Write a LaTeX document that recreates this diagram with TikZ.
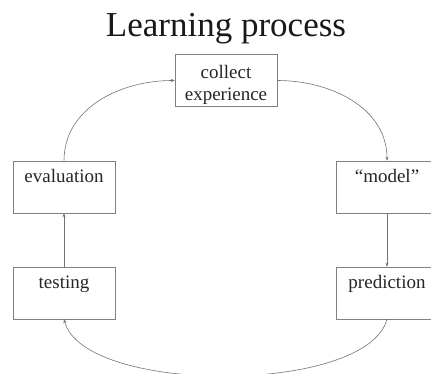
\documentclass[tikz,border=0pt]{standalone}
\usepackage{fontspec}
\setmainfont{Liberation Serif}
\usetikzlibrary{arrows.meta}
\begin{document}
\begin{tikzpicture}[x=1pt,y=1pt,
  stepbox/.style={draw=black!50, line width=0.6pt, minimum width=102pt, minimum height=52pt, inner sep=0pt},
  boxtext/.style={anchor=base, font=\fontsize{19}{22}\selectfont, text=black!85, inner sep=0pt},
  conn/.style={draw=black!55, line width=0.6pt, -{Stealth[length=4pt,width=3.2pt]}}]
\useasboundingbox (0,0) rectangle (431,373);
\begin{scope}
\clip (0,0) rectangle (431,373);
\node[anchor=base, font=\fontsize{35}{40}\selectfont, text=black!90] (title) at (226,336) {Learning process};
\node[stepbox] (collect) at (226,292.5) {};
\node[stepbox] (eval) at (64,186) {};
\node[stepbox] (model) at (387,186) {};
\node[stepbox] (test) at (64,80) {};
\node[stepbox] (pred) at (387,80) {};
\node[boxtext] (collectT) at ([yshift=-24pt]collect.north) {collect};
\node[boxtext] (collectT2) at ([yshift=-46pt]collect.north) {experience};
\node[boxtext] (evalT) at ([yshift=-22pt]eval.north) {evaluation};
\node[boxtext] (modelT) at ([yshift=-22pt]model.north) {\textquotedblleft model\textquotedblright};
\node[boxtext] (testT) at ([yshift=-22pt]test.north) {testing};
\node[boxtext] (predT) at ([yshift=-22pt]pred.north) {prediction};
\draw[conn] (eval.north) to[out=90,in=180] (collect.west);
\draw[conn] (collect.east) to[out=0,in=90] (model.north);
\draw[conn] (model.south) -- (pred.north);
\draw[conn] (pred.south) to[out=-105,in=-75,looseness=0.62] (test.south);
\draw[conn] (test.north) -- (eval.south);
\end{scope}
\end{tikzpicture}
\end{document}
